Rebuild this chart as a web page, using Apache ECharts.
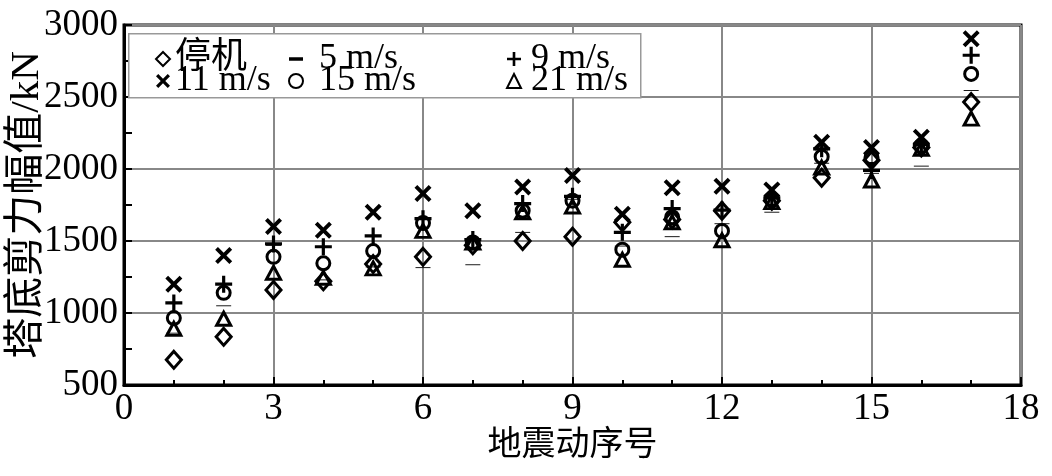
<!DOCTYPE html>
<html>
<head>
<meta charset="utf-8">
<script src="https://cdn.jsdelivr.net/npm/echarts@6/dist/echarts.min.js"></script>
<style>html,body{margin:0;padding:0;background:#fff}#c{width:1052px;height:476px}</style>
</head>
<body>
<div id="c"></div>
<script>
const categories = [1,2,3,4,5,6,7,8,9,10,11,12,13,14,15,16,17];
const seriesNames = ['停机','5 m/s','9 m/s','11 m/s','15 m/s','21 m/s'];
const stopValues = [675, 835, 1160, 1220, 1340, 1390, 1470, 1500, 1530, 1630, 1650, 1710, 1780, 1940, 2060, 2150, 2465];
const v5Values   = [860, 1050, 1470, 1230, 1320, 1315, 1335, 1560, 1790, 1465, 1530, 1620, 1700, 2040, 1970, 2020, 2545];
const v9Values   = [1070, 1200, 1480, 1460, 1535, 1655, 1510, 1760, 1810, 1560, 1725, 1715, 1800, 2140, 1990, 2170, 2790];
const v11Values  = [1200, 1400, 1600, 1575, 1700, 1830, 1710, 1875, 1955, 1685, 1870, 1880, 1855, 2185, 2150, 2220, 2905];
const v15Values  = [965, 1140, 1390, 1345, 1430, 1625, 1490, 1710, 1780, 1440, 1665, 1570, 1790, 2085, 2080, 2160, 2660];
const v21Values  = [890, 960, 1280, 1245, 1310, 1570, 1490, 1700, 1740, 1370, 1630, 1505, 1770, 2010, 1920, 2140, 2350];
const xTicks = [0, 3, 6, 9, 12, 15, 18];
const yTicks = [500, 1000, 1500, 2000, 2500, 3000];

const FONT = '"Liberation Serif", "Noto Sans CJK SC", serif';
const pts = vals => categories.map((c, i) => [c, vals[i]]);

const CROSS = 'path://M0,2.6L2.6,0L8,5.4L13.4,0L16,2.6L10.6,8L16,13.4L13.4,16L8,10.6L2.6,16L0,13.4L5.4,8Z';
const PLUS = 'path://M6.5,0H9.5V6.5H16V9.5H9.5V16H6.5V9.5H0V6.5H6.5Z';
const DASH = 'path://M0,0H16V4H0Z';

const hollow = {color: 'rgba(0,0,0,0)', borderColor: '#000', borderWidth: 3, opacity: 1};
const solid = {color: '#000', borderWidth: 0, opacity: 1};

const chart = echarts.init(document.getElementById('c'));
chart.setOption({
  animation: false,
  backgroundColor: '#fff',
  grid: {left: 124, right: 31, top: 25, bottom: 91, containLabel: false, outerBoundsMode: 'none',
         show: true, borderColor: '#000', borderWidth: 3, backgroundColor: 'transparent'},
  xAxis: {
    type: 'value', min: xTicks[0], max: xTicks[xTicks.length-1], interval: 3,
    name: '地震动序号', nameLocation: 'middle', nameGap: 44, nameMoveOverlap: false,
    nameTextStyle: {fontFamily: FONT, fontSize: 34, color: '#000'},
    axisLine: {lineStyle: {color: '#000', width: 3}},
    axisTick: {inside: true, length: 8, lineStyle: {color: '#000', width: 2}},
    minorTick: {show: true, splitNumber: 3, length: 5, lineStyle: {color: '#000', width: 2}},
    splitLine: {show: true, lineStyle: {color: '#888', width: 2}},
    axisLabel: {fontFamily: FONT, fontSize: 37, color: '#000', margin: 6, formatter: v => String(v)}
  },
  yAxis: {
    type: 'value', min: yTicks[0], max: yTicks[yTicks.length-1], interval: 500,
    name: '塔底剪力幅值/kN', nameLocation: 'middle', nameGap: 76, nameMoveOverlap: false,
    nameTextStyle: {fontFamily: FONT, fontSize: 41, color: '#000'},
    axisLine: {lineStyle: {color: '#000', width: 3}},
    axisTick: {inside: true, length: 8, lineStyle: {color: '#000', width: 2}},
    minorTick: {show: true, splitNumber: 2, length: 8, lineStyle: {color: '#000', width: 2}},
    splitLine: {show: true, lineStyle: {color: '#888', width: 2}},
    axisLabel: {fontFamily: FONT, fontSize: 37, color: '#000', margin: 6, formatter: v => String(v)}
  },
  graphic: [{
    type: 'rect', left: 128, top: 33, z: 50,
    shape: {width: 512, height: 64},
    style: {fill: '#fff', stroke: '#999', lineWidth: 1.5}
  }],
  legend: [
    {data: [seriesNames[0], seriesNames[3]], orient: 'vertical', left: 150, top: 36, itemWidth: 14, itemHeight: 14, itemGap: -14, z: 60,
     textStyle: {fontFamily: FONT, fontSize: 36, color: '#000', padding: [0,0,0,0]}},
    {data: [seriesNames[1], seriesNames[4]], orient: 'vertical', left: 283, top: 36, itemWidth: 14, itemHeight: 14, itemGap: -14, z: 60,
     textStyle: {fontFamily: FONT, fontSize: 36, color: '#000', padding: [0,0,0,11]}},
    {data: [seriesNames[2], seriesNames[5]], orient: 'vertical', left: 501, top: 36, itemWidth: 14, itemHeight: 14, itemGap: -14, z: 60,
     textStyle: {fontFamily: FONT, fontSize: 36, color: '#000', padding: [0,0,0,5]}}
  ],
  series: [
    {name: seriesNames[0], type: 'scatter', data: pts(stopValues), symbol: 'diamond', symbolSize: [15, 17], itemStyle: hollow},
    {name: seriesNames[1], type: 'scatter', data: pts(v5Values), symbol: DASH, symbolSize: [15, 3.6], symbolKeepAspect: true, itemStyle: solid},
    {name: seriesNames[2], type: 'scatter', data: pts(v9Values), symbol: PLUS, symbolSize: 17, itemStyle: solid},
    {name: seriesNames[3], type: 'scatter', data: pts(v11Values), symbol: CROSS, symbolSize: 17, itemStyle: solid},
    {name: seriesNames[4], type: 'scatter', data: pts(v15Values), symbol: 'circle', symbolSize: 13, itemStyle: hollow},
    {name: seriesNames[5], type: 'scatter', data: pts(v21Values), symbol: 'triangle', symbolSize: [14, 13], itemStyle: hollow}
  ]
});
</script>
</body>
</html>
